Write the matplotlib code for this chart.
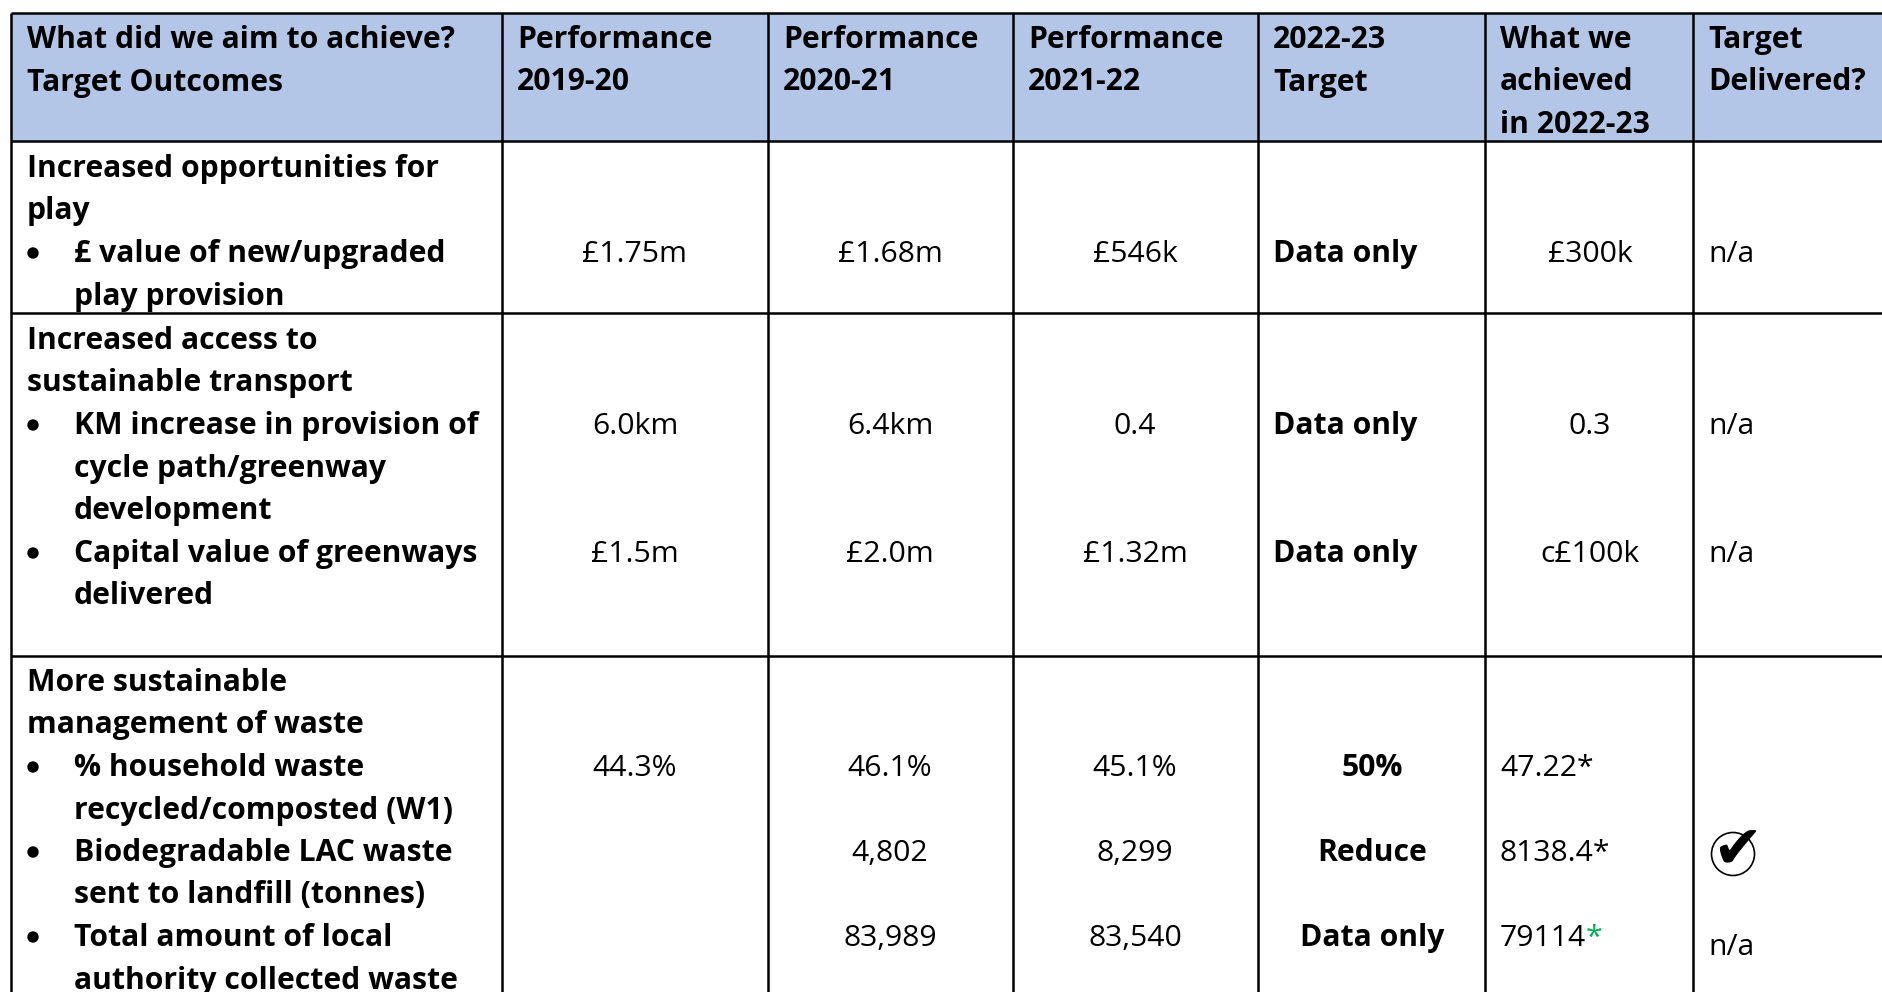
import matplotlib
matplotlib.use("Agg")
import matplotlib.pyplot as plt
from matplotlib.patches import Rectangle, Circle

FONT = "Open Sans"
SIZE = 21.7

# table content
headers = [
    ["What did we aim to achieve?", "Target Outcomes"],
    ["Performance", "2019-20"],
    ["Performance", "2020-21"],
    ["Performance", "2021-22"],
    ["2022-23", "Target"],
    ["What we", "achieved", "in 2022-23"],
    ["Target", "Delivered?"],
]

outcome_titles = [
    ["Increased opportunities for", "play"],
    ["Increased access to", "sustainable transport"],
    ["More sustainable", "management of waste"],
]
outcome_bullets = [
    [["£ value of new/upgraded", "play provision"]],
    [["KM increase in provision of", "cycle path/greenway", "development"],
     ["Capital value of greenways", "delivered"]],
    [["% household waste", "recycled/composted (W1)"],
     ["Biodegradable LAC waste", "sent to landfill (tonnes)"],
     ["Total amount of local", "authority collected waste"]],
]

perf_2019 = ["£1.75m", "6.0km", "£1.5m", "44.3%", "", ""]
perf_2020 = ["£1.68m", "6.4km", "£2.0m", "46.1%", "4,802", "83,989"]
perf_2021 = ["£546k", "0.4", "£1.32m", "45.1%", "8,299", "83,540"]
target_2022 = ["Data only", "Data only", "Data only", "50%", "Reduce", "Data only"]
achieved_2022 = ["£300k", "0.3", "c£100k", "47.22*", "8138.4*", "79114"]
delivered = ["n/a", "n/a", "n/a", "", "", "n/a"]

# layout, in pixels of the output image
W, H = 1883, 992
col_x = [11.5, 502.5, 768, 1013.5, 1258, 1485.5, 1693.5]
header_x = [27, 517, 783, 1028, 1273, 1500, 1708]
row_y = [13, 141, 313, 656]
line_h = 42.5
value_y = [262, 434, 562, 776, 861, 946]
title_y = [177, 349, 691]
bullet_y = [[262], [434, 562], [776, 861, 946]]

fig = plt.figure(figsize=(W / 100, H / 100), dpi=100)
ax = fig.add_axes([0, 0, 1, 1])
ax.set_xlim(0, W)
ax.set_ylim(H, 0)
ax.axis("off")


def put(x, y, s, bold=False, ha="left", color="black"):
    return ax.text(x, y, s, family=FONT, fontsize=SIZE, ha=ha, va="baseline",
                   color=color, fontweight="bold" if bold else "normal")


ax.add_patch(Rectangle((col_x[0], row_y[0]), W - col_x[0], row_y[1] - row_y[0],
                       facecolor="#B4C6E7", edgecolor="none"))

for x in col_x:
    ax.plot([x, x], [row_y[0], H], color="black", lw=1.8, solid_capstyle="butt")
for y in row_y:
    ax.plot([col_x[0], W], [y, y], color="black", lw=1.8, solid_capstyle="butt")

# header row
for x, lines in zip(header_x, headers):
    for i, s in enumerate(lines):
        put(x, 48 + i * line_h, s, bold=True)

# first column
for title, t_y, bullets, b_y in zip(outcome_titles, title_y, outcome_bullets, bullet_y):
    for i, s in enumerate(title):
        put(27, t_y + i * line_h, s, bold=True)
    for lines, y0 in zip(bullets, b_y):
        ax.add_patch(Circle((33, y0 - 9), 5, color="black"))
        for i, s in enumerate(lines):
            put(74, y0 + i * line_h, s, bold=True)

# value columns
for i, y in enumerate(value_y):
    put(635, y, perf_2019[i], ha="center")
    put(890, y, perf_2020[i], ha="center")
    put(1135, y, perf_2021[i], ha="center")
    if i < 3:
        put(1273, y, target_2022[i], bold=True)
    else:
        put(1372, y, target_2022[i], bold=True, ha="center")
    if i < 3:
        put(1590, y, achieved_2022[i], ha="center")
    else:
        put(1500, y, achieved_2022[i])
    if i < 3:
        put(1708, y, delivered[i])

# green asterisk after the last figure
t = put(1500, value_y[5], achieved_2022[5], color="none")
fig.canvas.draw()
end_x = t.get_window_extent().x1
put(end_x - 1, value_y[5], "*", color="#00B050")

put(1708, 955, delivered[5])

# tick in a circle
ax.add_patch(Circle((1733, 854), 21.5, facecolor="none", edgecolor="black", lw=1.2))
ax.text(1737, 868, "\u2714", family="DejaVu Sans", fontsize=43, ha="center", va="baseline", color="black")

fig.savefig("out.png", dpi=100)
